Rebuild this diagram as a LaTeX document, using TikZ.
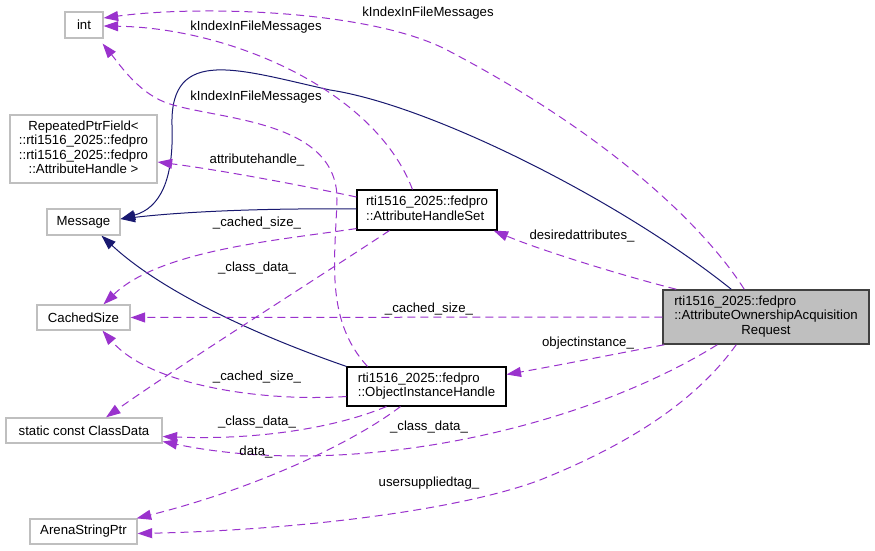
\documentclass[tikz,border=0pt]{standalone}
\usepackage{fontspec}
\setmainfont{Liberation Sans}
\usetikzlibrary{arrows.meta,calc}
\definecolor{edgepurple}{HTML}{9A32CD}
\definecolor{edgenavy}{HTML}{191970}
\definecolor{greyseventyfive}{HTML}{BFBFBF}
\definecolor{mainborder}{HTML}{404040}
\begin{document}
\begin{tikzpicture}[x=1pt,y=-1pt,
  every node/.style={font=\fontsize{13.2}{14.5}\selectfont, inner sep=0pt},
  ext/.style={draw=greyseventyfive, fill=white, line width=1.3pt, rectangle},
  cls/.style={draw=black, fill=white, line width=1.1pt, rectangle},
  mainbox/.style={draw=mainborder, fill=greyseventyfive, line width=1.5pt, rectangle},
  inh/.style={draw=edgenavy, line width=1pt, -{Triangle[length=14.5pt,width=10pt]}},
  use/.style={draw=edgepurple, line width=1pt, dash pattern=on 8pt off 5pt, -{Triangle[length=14.5pt,width=10pt]}},
  lbl/.style={anchor=center}
]
\useasboundingbox (0,0) rectangle (875,551);
\fill[white] (0,0) rectangle (875,551);

% nodes
\node[ext, minimum width=38pt, minimum height=26pt] (int) at (84,25) {int};
\node[ext, minimum width=147pt, minimum height=68pt] (rpf) at (83.5,149)
  {\begin{tabular}{@{}c@{}}RepeatedPtrField<\\::rti1516\_2025::fedpro\\::rti1516\_2025::fedpro\\::AttributeHandle >\end{tabular}};
\node[ext, minimum width=73pt, minimum height=26pt] (msg) at (83.5,222) {Message};
\node[ext, minimum width=93pt, minimum height=25pt] (cs) at (83.5,317.5) {CachedSize};
\node[ext, minimum width=156pt, minimum height=25pt] (cd) at (84,430.5) {static const ClassData};
\node[ext, minimum width=107pt, minimum height=25pt] (asp) at (83.5,531.5) {ArenaStringPtr};
\node[cls, minimum width=140pt, minimum height=40pt] (ahs) at (427,210)
  {\begin{tabular}{@{}l@{}}rti1516\_2025::fedpro\\::AttributeHandleSet\end{tabular}};
\node[cls, minimum width=159pt, minimum height=39pt] (oih) at (426.5,386.5)
  {\begin{tabular}{@{}l@{}}rti1516\_2025::fedpro\\::ObjectInstanceHandle\end{tabular}};
\node[mainbox, minimum width=206pt, minimum height=54pt] (main) at (766,317)
  {\begin{tabular}{@{}l@{}}rti1516\_2025::fedpro\\::AttributeOwnershipAcquisition\\\multicolumn{1}{@{}c@{}}{Request}\end{tabular}};

% inheritance edges
\draw[inh] ($(main.north west)+(69,0)$) .. controls (620,200) and (430,105) .. (330,90)
  .. controls (240,70) and (170,45) .. (172,125)
  .. controls (174,180) and (160,208) .. ($(msg.east)+(0,-3)$);
\draw[inh] ($(ahs.west)+(0,-1)$) .. controls (260,208) and (180,212) .. ($(msg.east)+(0,-3)$);
\draw[inh] (oih.north west) .. controls (250,333) and (160,290) .. ($(msg.south)+(18,0)$);

% usage edges
\draw[use] ($(main.north west)+(82,0)$) .. controls (700,220) and (600,130) .. (447,50)
  .. controls (370,10) and (200,5) .. ($(int.east)+(0,-7)$);
\draw[use] ($(ahs.north west)+(56,0)$) .. controls (375,90) and (230,28) .. ($(int.east)+(0,1)$);
\draw[use] ($(oih.north west)+(21,0)$) .. controls (325,320) and (335,260) .. (337,200)
  .. controls (338,120) and (220,120) .. (170,104)
  .. controls (140,95) and (120,65) .. ($(int.south east)+(-1,5)$);
\draw[use] ($(ahs.west)+(0,-13)$) .. controls (300,185) and (220,170) .. ($(rpf.east)+(0,13)$);
\draw[use] ($(ahs.south west)+(0,-2)$) .. controls (280,240) and (160,250) .. ($(cs.north)+(20,0)$);
\draw[use] ($(ahs.south west)+(33,0)$) .. controls (330,270) and (180,365) .. ($(cd.north)+(22,0)$);
\draw[use] ($(main.north west)+(14,0)$) .. controls (620,275) and (540,250) .. ($(ahs.south east)+(-4,0)$);
\draw[use] (main.west) -- (cs.east);
\draw[use] ($(oih.west)+(0,10)$) .. controls (260,402) and (150,385) .. ($(cs.south)+(19,0)$);
\draw[use] ($(main.south west)+(2,0)$) .. controls (610,355) and (560,365) .. ($(oih.east)+(0,-12)$);
\draw[use] ($(oih.south west)+(40,0)$) .. controls (330,430) and (250,440) .. ($(cd.east)+(0,6)$);
\draw[use] ($(main.south west)+(55,0)$) .. controls (580,430) and (350,480) .. ($(cd.east)+(0,11)$);
\draw[use] ($(oih.south west)+(54,0)$) .. controls (350,445) and (250,490) .. ($(asp.north east)+(-1,0)$);
\draw[use] ($(main.south west)+(74,0)$) .. controls (700,395) and (640,440) .. (540,480)
  .. controls (460,510) and (300,530) .. ($(asp.east)+(0,2)$);

% labels
\node[lbl] (l1) at (428,13) {kIndexInFileMessages};
\node[lbl] (l2) at (256,27) {kIndexInFileMessages};
\node[lbl] (l3) at (256,97) {kIndexInFileMessages};
\node[lbl] (l4) at (257,160) {attributehandle\_};
\node[lbl] (l5) at (257,223) {\_cached\_size\_};
\node[lbl] (l6) at (257,268) {\_class\_data\_};
\node[lbl] (l7) at (582,236) {desiredattributes\_};
\node[lbl] (l8) at (429,309) {\_cached\_size\_};
\node[lbl] (l9) at (588,343) {objectinstance\_};
\node[lbl] (l10) at (257,377) {\_cached\_size\_};
\node[lbl] (l11) at (257,422) {\_class\_data\_};
\node[lbl] (l12) at (429,427) {\_class\_data\_};
\node[lbl] (l13) at (256,452) {data\_};
\node[lbl] (l14) at (429,483) {usersuppliedtag\_};
\end{tikzpicture}
\end{document}
